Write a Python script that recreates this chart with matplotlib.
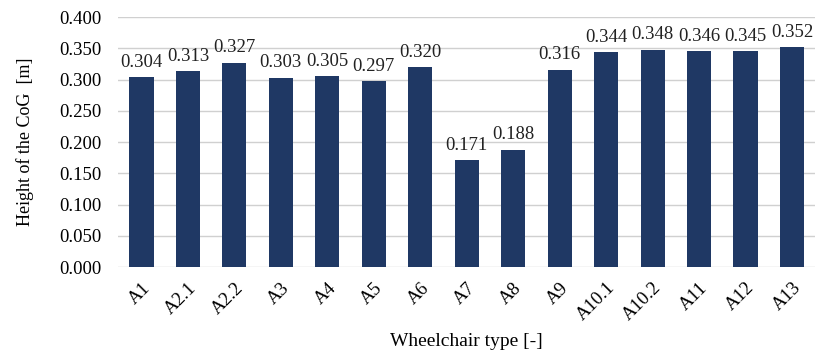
import matplotlib.pyplot as plt

plt.rcParams['font.family'] = ['Liberation Serif', 'DejaVu Serif']

types = ['A1', 'A2.1', 'A2.2', 'A3', 'A4', 'A5', 'A6', 'A7', 'A8', 'A9',
         'A10.1', 'A10.2', 'A11', 'A12', 'A13']
cog_height = [0.304, 0.313, 0.327, 0.303, 0.305, 0.297, 0.320, 0.171, 0.188,
              0.316, 0.344, 0.348, 0.346, 0.345, 0.352]
yticks = [0.0, 0.05, 0.10, 0.15, 0.20, 0.25, 0.30, 0.35, 0.40]

fig = plt.figure(figsize=(8.21, 3.56), dpi=100)
ax = fig.add_axes([0.144, 0.25, 0.849, 0.702])

x = range(len(types))
bars = ax.bar(x, cog_height, width=0.52, color='#1f3864', zorder=3)
for b, v in zip(bars, cog_height):
    ax.text(b.get_x() + b.get_width() / 2, v + 0.010, f'{v:.3f}',
            ha='center', va='bottom', fontsize=13.5, color='#222222')

ax.set_xlim(-0.5, len(types) - 0.5)
ax.set_ylim(0, 0.4)
ax.set_yticks(yticks)
ax.set_yticklabels([f'{t:.3f}' for t in yticks], fontsize=13.5)
ax.set_xticks(list(x))
ax.set_xticklabels(types, rotation=45, ha='right', rotation_mode='anchor',
                   fontsize=13.5)
ax.tick_params(length=0)
ax.tick_params(axis='y', pad=12)
ax.tick_params(axis='x', pad=9)
ax.grid(axis='y', color='#d0d0d0', linewidth=1, zorder=0)
for s in ax.spines.values():
    s.set_visible(False)

ax.set_xlabel('Wheelchair type [-]', fontsize=14, labelpad=6)
ax.set_ylabel('Height of the CoG  [m]', fontsize=13, labelpad=18)

fig.savefig('out.png', dpi=100)
